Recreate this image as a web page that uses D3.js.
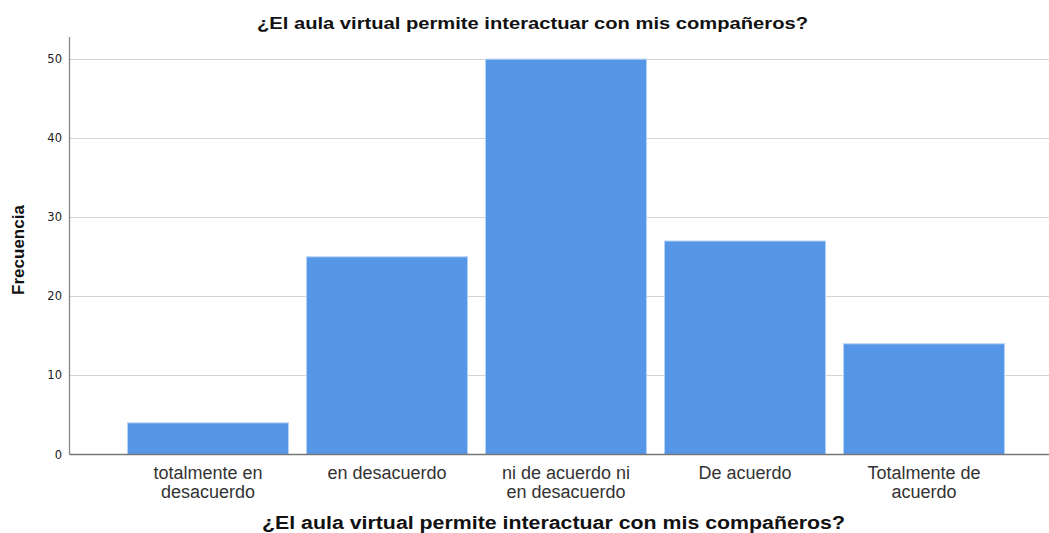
<!DOCTYPE html>
<html>
<head>
<meta charset="utf-8">
<script src="https://cdn.jsdelivr.net/npm/d3@7"></script>
<style>
  body { margin: 0; background: #fff; }
  svg { display: block; font-family: 'Liberation Sans', Arial, sans-serif; }
</style>
</head>
<body>
<div id="chart"></div>
<script>
// Data
const categories = [
  ['totalmente en', 'desacuerdo'],
  ['en desacuerdo'],
  ['ni de acuerdo ni', 'en desacuerdo'],
  ['De acuerdo'],
  ['Totalmente de', 'acuerdo']
];
const frequencies = [4, 25, 50, 27, 14];
const yTicks = [0, 10, 20, 30, 40, 50];
const title = '¿El aula virtual permite interactuar con mis compañeros?';

const width = 1049, height = 533;
const axisX = 69.5, axisBottom = 454.5, axisTop = 37;

const svg = d3.select('#chart').append('svg')
  .attr('width', width).attr('height', height);

const keys = categories.map(c => c.join(' '));

const x = d3.scaleBand()
  .domain(keys)
  .range([118.5, 1013.5])
  .paddingInner(0.1)
  .paddingOuter(0.05);

const y = d3.scaleLinear()
  .domain([0, 52.8])
  .range([axisBottom, axisTop]);

// Gridlines
svg.append('g')
  .selectAll('line')
  .data(yTicks.filter(t => t > 0))
  .join('line')
  .attr('x1', axisX).attr('x2', width)
  .attr('y1', d => Math.round(y(d)) + 0.5).attr('y2', d => Math.round(y(d)) + 0.5)
  .attr('stroke', '#d4d4d4').attr('stroke-width', 1);

// Bars
svg.append('g')
  .selectAll('rect')
  .data(frequencies)
  .join('rect')
  .attr('x', (d, i) => x(keys[i]))
  .attr('y', d => y(d))
  .attr('width', x.bandwidth())
  .attr('height', d => axisBottom - y(d))
  .attr('fill', '#5596e6')
  .attr('stroke', '#b4d2f5')
  .attr('stroke-width', 1);

// Y axis line
svg.append('line')
  .attr('x1', axisX).attr('x2', axisX)
  .attr('y1', axisTop).attr('y2', axisBottom)
  .attr('stroke', '#888').attr('stroke-width', 1.3);

// X axis line
svg.append('line')
  .attr('x1', axisX).attr('x2', width)
  .attr('y1', axisBottom).attr('y2', axisBottom)
  .attr('stroke', '#777').attr('stroke-width', 1.3);

// Y tick labels
svg.append('g')
  .selectAll('text')
  .data(yTicks)
  .join('text')
  .attr('x', 62)
  .attr('y', d => y(d) + 4)
  .attr('text-anchor', 'end')
  .attr('font-family', "'DejaVu Sans', sans-serif")
  .attr('font-size', '11.5px')
  .attr('fill', '#222')
  .text(d => d);

// Category labels
const catG = svg.append('g');
categories.forEach((lines, i) => {
  const cx = x(keys[i]) + x.bandwidth() / 2;
  const t = catG.append('text')
    .attr('x', cx)
    .attr('text-anchor', 'middle')
    .attr('font-size', '18px')
    .attr('fill', '#333');
  lines.forEach((ln, j) => {
    t.append('tspan').attr('x', cx).attr('y', 479 + j * 19).text(ln);
  });
});

// Title (stretched like the original export)
svg.append('text')
  .attr('x', 257).attr('y', 29)
  .attr('font-size', '17px').attr('font-weight', 'bold')
  .attr('fill', '#111')
  .attr('textLength', 551).attr('lengthAdjust', 'spacingAndGlyphs')
  .text(title);

// X axis title
svg.append('text')
  .attr('x', 262).attr('y', 529)
  .attr('font-size', '17.5px').attr('font-weight', 'bold')
  .attr('fill', '#111')
  .attr('textLength', 583).attr('lengthAdjust', 'spacingAndGlyphs')
  .text(title);

// Y axis title
svg.append('text')
  .attr('transform', `translate(24, 250) rotate(-90)`)
  .attr('text-anchor', 'middle')
  .attr('font-size', '17px').attr('font-weight', 'bold')
  .attr('fill', '#111')
  .text('Frecuencia');
</script>
</body>
</html>
